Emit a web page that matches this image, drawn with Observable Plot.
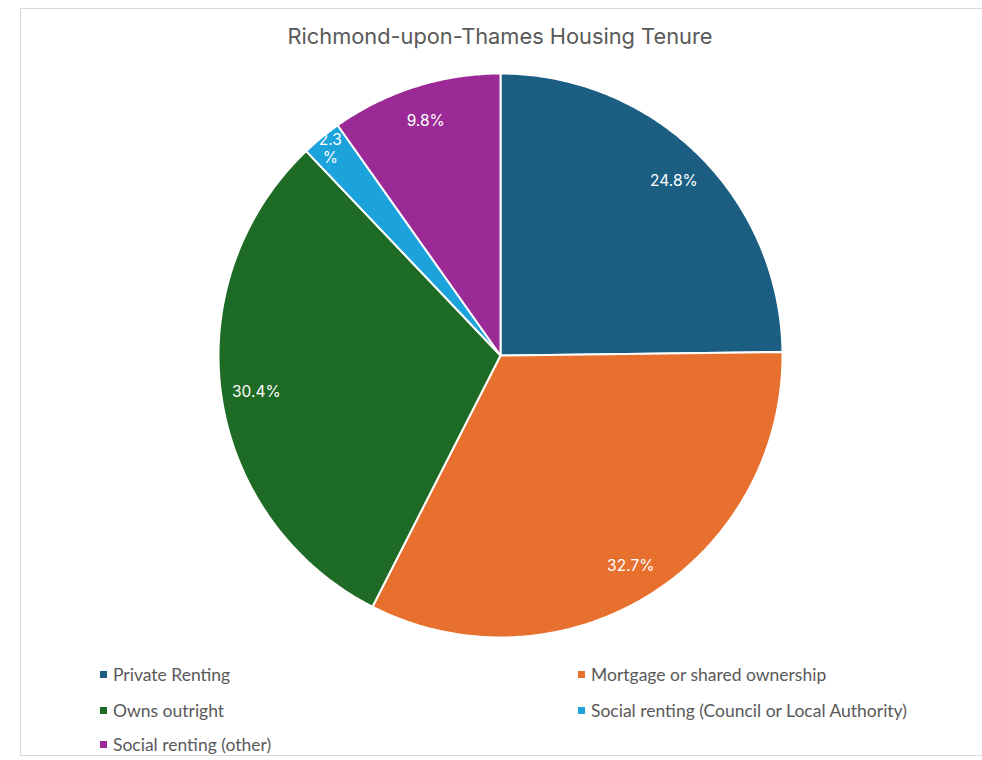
<!DOCTYPE html>
<html>
<head>
<meta charset="utf-8">
<script src="https://cdn.jsdelivr.net/npm/d3@7"></script>
<script src="https://cdn.jsdelivr.net/npm/@observablehq/plot@0.6"></script>
<style>
  html, body { margin: 0; padding: 0; background: #fff; }
  body { width: 982px; height: 760px; position: relative; overflow: hidden; }
  #frame { position: absolute; left: 20px; top: 8px; width: 990px; height: 748px; border: 1px solid #d9d9d9; box-sizing: border-box; }
  #title { position: absolute; left: 0; width: 1000px; top: 23px; text-align: center; font-family: Inter, "Open Sans", sans-serif; font-size: 21.8px; color: #595959; }
  #chart { position: absolute; left: 205px; top: 60px; }
  .leg { position: absolute; font-family: Lato, "Open Sans", sans-serif; font-size: 17.5px; color: #595959; display: flex; align-items: center; white-space: nowrap; }
  .leg span.sw { display: inline-block; width: 7px; height: 7px; margin-right: 6px; }
</style>
</head>
<body>
<div id="frame"></div>
<div id="title"></div>
<div id="chart"></div>
<div id="legend"></div>
<script>
const title = "Richmond-upon-Thames Housing Tenure";
const categories = ["Private Renting", "Mortgage or shared ownership", "Owns outright", "Social renting (Council or Local Authority)", "Social renting (other)"];
const values = [24.8, 32.7, 30.4, 2.3, 9.8];
const colors = ["#1b5e82", "#e8702f", "#1e6b25", "#1ca3dc", "#9b2a96"];
const legendOrder = [0, 1, 2, 3, 4];

document.getElementById("title").textContent = title;

const pie = d3.pie().sort(null).value(d => d)(values);

// polygon vertices for each slice in unit-circle space (y up), angle clockwise from top
const poly = [];
pie.forEach((p, i) => {
  const n = Math.max(2, Math.ceil((p.endAngle - p.startAngle) / 0.01));
  poly.push({cat: categories[i], x: 0, y: 0});
  for (let k = 0; k <= n; k++) {
    const a = p.startAngle + (p.endAngle - p.startAngle) * k / n;
    poly.push({cat: categories[i], x: Math.sin(a), y: Math.cos(a)});
  }
  poly.push({cat: categories[i], x: 0, y: 0});
});

const labels = pie.map((p, i) => {
  const a = (p.startAngle + p.endAngle) / 2;
  const small = values[i] < 5;
  const r = small ? 0.95 : 0.875;
  const txt = values[i].toFixed(1) + "%";
  return {x: r * Math.sin(a), y: r * Math.cos(a), text: small ? txt.replace("%", "\n%") : txt};
});

const chart = Plot.plot({
  width: 590,
  height: 590,
  margin: 13,
  x: {domain: [-1, 1], axis: null},
  y: {domain: [-1, 1], axis: null},
  color: {domain: categories, range: colors},
  style: {background: "transparent"},
  marks: [
    Plot.line(poly, {x: "x", y: "y", z: "cat", fill: "cat", stroke: "white", strokeWidth: 2, strokeLinejoin: "round", curve: "linear"}),
    Plot.text(labels, {x: "x", y: "y", text: "text", fill: "white", fontSize: 15.5, fontFamily: "Inter, 'Open Sans', sans-serif", lineHeight: 1.15})
  ]
});
document.getElementById("chart").appendChild(chart);

// legend
const legPos = [[100, 676], [578, 676], [100, 712], [578, 712], [100, 746]];
const leg = document.getElementById("legend");
legendOrder.forEach((i, j) => {
  const d = document.createElement("div");
  d.className = "leg";
  d.style.left = legPos[j][0] + "px";
  d.style.top = (legPos[j][1] - 12) + "px";
  const sw = document.createElement("span");
  sw.className = "sw";
  sw.style.background = colors[i];
  d.appendChild(sw);
  d.appendChild(document.createTextNode(categories[i]));
  leg.appendChild(d);
});
</script>
</body>
</html>
